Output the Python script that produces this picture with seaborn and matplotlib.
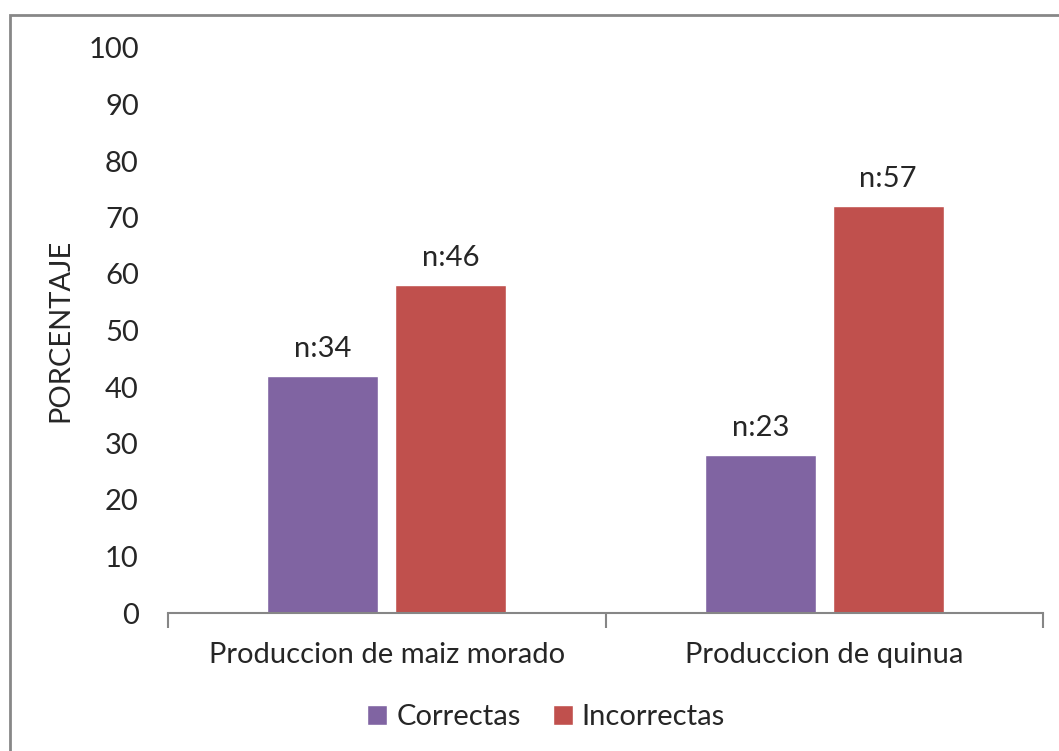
import matplotlib
matplotlib.use("Agg")
import matplotlib.pyplot as plt
import matplotlib.patches as mpatches
import numpy as np
import seaborn as sns
import pandas as pd

categorias = ["Produccion de maiz morado", "Produccion de quinua"]
series = ["Correctas", "Incorrectas"]
correctas = [42, 28]
incorrectas = [58, 72]
n_correctas = [34, 23]
n_incorrectas = [46, 57]
colores = ["#8064A2", "#C0504D"]

df = pd.DataFrame({
    "categoria": categorias * 2,
    "serie": [series[0]] * 2 + [series[1]] * 2,
    "valor": correctas + incorrectas,
})

sns.set_style("white")
plt.rcParams["font.family"] = ["Lato", "DejaVu Sans"]
fs = 21

fig = plt.figure(figsize=(10.59, 7.51), dpi=100)
ax = fig.add_axes([168 / 1059, 1 - 613 / 751, (1043 - 168) / 1059, (613 - 48) / 751])

sns.barplot(data=df, x="categoria", y="valor", hue="serie", palette=colores,
            width=0.585, gap=0.133, ax=ax, legend=True, saturation=1)

for cont, labs in zip(ax.containers, [n_correctas, n_incorrectas]):
    ax.bar_label(cont, labels=[f"n:{v}" for v in labs], padding=10, fontsize=fs)

ax.set_ylim(0, 100)
ax.set_xlim(-0.5, 1.5)
ax.set_yticks(np.arange(0, 101, 10))
ax.tick_params(axis="y", length=0, pad=21, labelsize=fs)
ax.tick_params(axis="x", which="major", length=0, pad=21, labelsize=fs)
ax.set_xticks([-0.5, 0.5, 1.5], minor=True)
ax.tick_params(axis="x", which="minor", bottom=True, length=11, width=1.5,
               color="#868686")
ax.set_xlabel("")
ax.set_ylabel("PORCENTAJE", fontsize=fs, labelpad=11)

for s in ["left", "right", "top"]:
    ax.spines[s].set_visible(False)
ax.spines["bottom"].set_color("#868686")
ax.spines["bottom"].set_linewidth(1.5)

leg = ax.legend(loc="center", bbox_to_anchor=(546 / 1059, 1 - 717 / 751),
                bbox_transform=fig.transFigure, ncol=2, frameon=False,
                fontsize=fs, handlelength=0.7, handleheight=0.7,
                handletextpad=0.3, columnspacing=1.1)

fig.patches.append(mpatches.Rectangle((9.5 / 1059, -0.1), 1.2, 1 - 14.5 / 751 + 0.1,
                                      transform=fig.transFigure, fill=False,
                                      edgecolor="#878787", linewidth=2))

fig.savefig("out.png", dpi=100)
